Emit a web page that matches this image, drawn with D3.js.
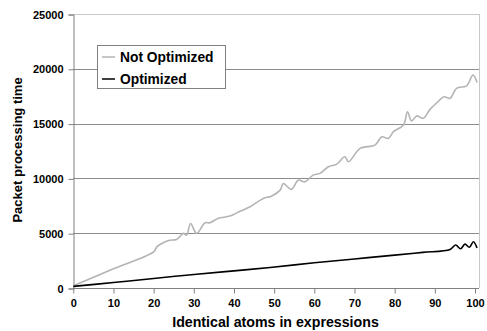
<!DOCTYPE html>
<html>
<head>
<meta charset="utf-8">
<script src="https://cdn.jsdelivr.net/npm/d3@7"></script>
<style>
  body { margin: 0; background: #fff; }
  text { font-family: "Liberation Sans", Arial, sans-serif; font-weight: bold; fill: #000; }
</style>
</head>
<body>
<svg id="chart" width="487" height="331"></svg>
<script>
// data
var xTicks = [0, 10, 20, 30, 40, 50, 60, 70, 80, 90, 100];
var yTicks = [0, 5000, 10000, 15000, 20000, 25000];
var seriesNames = ["Not Optimized", "Optimized"];

var notOptX = [0, 10, 20, 20.8, 22, 24, 25.7, 27.4, 28.2, 29.2, 30.7, 32.8, 34, 36, 39, 41.5, 44, 47.3, 49.3,
  51.5, 52.3, 54.3, 56, 57.7, 59.7, 61.4, 63.5, 65.6, 67.6, 68.5, 71.4, 75.1, 76.8, 78.4, 79.7, 82.2,
  83.2, 84.2, 85.5, 87.1, 88.8, 90.5, 92.3, 93.8, 95.4, 97.9, 99.5, 100.5];
var notOptY = [200, 1750, 3300, 3750, 4060, 4360, 4430, 4980, 4820, 5890, 4980, 5950, 5950, 6350, 6560, 7000, 7410, 8170, 8380,
  8930, 9540, 9000, 9840, 9690, 10300, 10460, 11060, 11300, 11970, 11520, 12740, 13040, 13800, 13650, 14260, 14870,
  16080, 15250, 15700, 15480, 16300, 16900, 17450, 17300, 18220, 18450, 19430, 18750];

var optX = [0, 10, 20, 30.7, 40, 49, 60, 70, 80, 87, 93.8, 95.2, 96.4, 97.5, 98.6, 99.6, 100.5];
var optY = [150, 500, 870, 1260, 1560, 1870, 2300, 2650, 3000, 3250, 3520, 3920, 3580, 4000, 3720, 4220, 3650];

var colors = ["#b4b4b4", "#000000"];

var svg = d3.select("#chart");
var plotLeft = 73, plotRight = 479, plotTop = 14, plotBottom = 288;

var x = d3.scaleLinear().domain([0, 100]).range([73.3, 475]);
var y = d3.scaleLinear().domain([0, 25000]).range([plotBottom, plotTop]);

// grid lines
svg.append("g")
  .selectAll("line")
  .data(yTicks.filter(function(d) { return d > 0; }))
  .enter()
  .append("line")
  .attr("x1", plotLeft).attr("x2", plotRight)
  .attr("y1", function(d) { return Math.round(y(d)) + 0.5; })
  .attr("y2", function(d) { return Math.round(y(d)) + 0.5; })
  .style("stroke", function(d) { return d == 25000 ? "#c8c8c8" : "#8c8c8c"; })
  .style("stroke-width", 1);

// right border of plot area
svg.append("line")
  .attr("x1", plotRight + 0.5).attr("x2", plotRight + 0.5)
  .attr("y1", plotTop).attr("y2", plotBottom)
  .style("stroke", "#c8c8c8");

// axes
var yAxis = svg.append("g")
  .attr("transform", "translate(" + (plotLeft + 0.5) + ",0.5)")
  .call(d3.axisLeft(y).tickValues(yTicks).tickSize(5).tickPadding(5).tickFormat(d3.format("d")));
var xAxis = svg.append("g")
  .attr("transform", "translate(0," + (plotBottom + 0.5) + ")")
  .call(d3.axisBottom(x).tickValues(xTicks).tickSize(5).tickPadding(6));

[yAxis, xAxis].forEach(function(a) {
  a.select(".domain").style("stroke", "#808080");
  a.selectAll(".tick line").style("stroke", "#808080");
  a.selectAll("text").style("font-size", "11px")
    .style("font-family", "'Liberation Sans', Arial, sans-serif").style("font-weight", "bold");
});
xAxis.select(".domain").attr("d", "M" + plotLeft + ",0H" + plotRight);

// lines
var line = d3.line()
  .x(function(d) { return x(d[0]); })
  .y(function(d) { return y(d[1]); })
  .curve(d3.curveCatmullRom.alpha(0.5));

var series = [
  d3.zip(notOptX, notOptY),
  d3.zip(optX, optY)
];

svg.append("g")
  .selectAll("path")
  .data(series)
  .enter()
  .append("path")
  .attr("d", line)
  .style("fill", "none")
  .style("stroke", function(d, i) { return colors[i]; })
  .style("stroke-width", 1.6);

// legend
var legend = svg.append("g");
legend.append("rect")
  .attr("x", 97.5).attr("y", 45.5)
  .attr("width", 128).attr("height", 43)
  .style("fill", "#fff")
  .style("stroke", "#808080");

var item = legend.selectAll("g")
  .data(seriesNames)
  .enter()
  .append("g")
  .attr("transform", function(d, i) { return "translate(0," + (57 + i * 22) + ")"; });
item.append("line")
  .attr("x1", 102).attr("x2", 115)
  .attr("y1", 0).attr("y2", 0)
  .style("stroke", function(d, i) { return colors[i]; })
  .style("stroke-width", 1.5);
item.append("text")
  .attr("x", 120).attr("y", 5)
  .style("font-size", "13.8px")
  .text(function(d) { return d; });

// axis titles
svg.append("text")
  .attr("x", 275.5).attr("y", 327)
  .attr("text-anchor", "middle")
  .style("font-size", "14.2px")
  .text("Identical atoms in expressions");

svg.append("text")
  .attr("transform", "translate(22,150) rotate(-90)")
  .attr("text-anchor", "middle")
  .style("font-size", "13px")
  .text("Packet processing time");
</script>
</body>
</html>
